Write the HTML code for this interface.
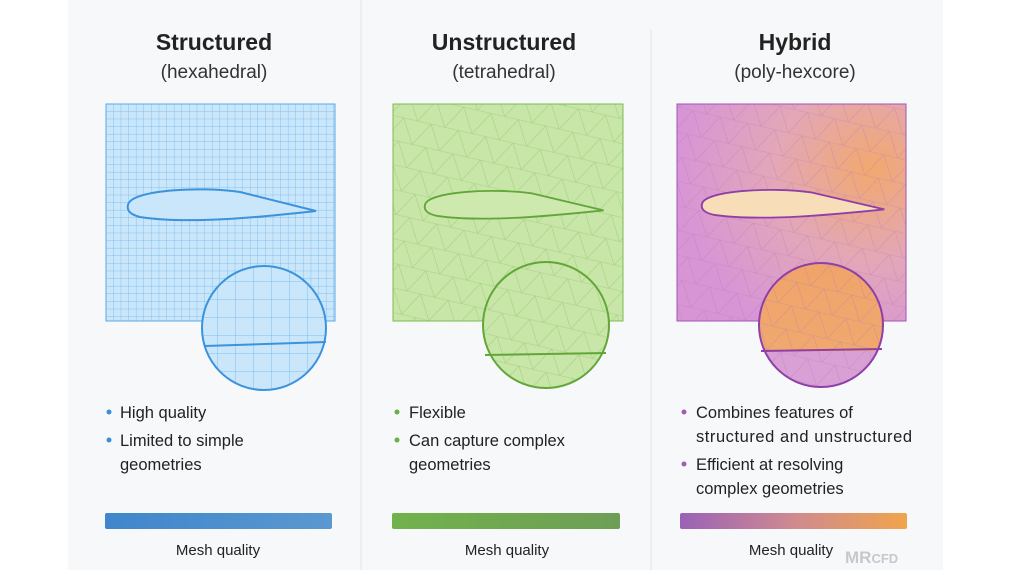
<!DOCTYPE html>
<html><head><meta charset="utf-8"><style>
body{margin:0;width:1012px;height:570px;background:#fff;overflow:hidden;font-family:"Liberation Sans",sans-serif}
</style></head><body>
<svg width="1012" height="570" viewBox="0 0 1012 570" xmlns="http://www.w3.org/2000/svg">
<defs>
<pattern id="grid" width="7.6" height="7.6" patternUnits="userSpaceOnUse" x="106" y="104"><path d="M7.6 0V7.6M0 7.6H7.6" stroke="#6db4ea" stroke-width="0.7" fill="none"/></pattern>
<pattern id="grid2" width="18" height="18" patternUnits="userSpaceOnUse" x="200" y="264"><path d="M18 0V18M0 18H18" stroke="#6db4ea" stroke-width="0.8" fill="none"/></pattern>
<pattern id="triG" width="28" height="24" patternUnits="userSpaceOnUse" patternTransform="rotate(13)"><path d="M0 0L14 24L28 0Z M0 24H28" stroke="#8cc267" stroke-opacity="0.6" stroke-width="0.6" fill="none"/></pattern>
<pattern id="triP" width="28" height="24" patternUnits="userSpaceOnUse" patternTransform="rotate(13)"><path d="M0 0L14 24L28 0Z M0 24H28" stroke="#b07ab0" stroke-opacity="0.45" stroke-width="0.6" fill="none"/></pattern>
<radialGradient id="pg" cx="0.85" cy="0.3" r="0.85"><stop offset="0" stop-color="#f2a86e"/><stop offset="0.5" stop-color="#e3a7b8"/><stop offset="1" stop-color="#d795d6"/></radialGradient>
<linearGradient id="pc" x1="0" y1="0" x2="0" y2="1"><stop offset="0" stop-color="#f0a46a"/><stop offset="0.7" stop-color="#f0a86e"/><stop offset="0.72" stop-color="#d9a0d6"/></linearGradient>
<linearGradient id="bb" x1="0" x2="1"><stop offset="0" stop-color="#3f86cc"/><stop offset="1" stop-color="#5b98d0"/></linearGradient>
<linearGradient id="gb" x1="0" x2="1"><stop offset="0" stop-color="#72b24c"/><stop offset="1" stop-color="#6e9e56"/></linearGradient>
<linearGradient id="hb" x1="0" x2="1"><stop offset="0" stop-color="#9a62b6"/><stop offset="0.5" stop-color="#cf8a90"/><stop offset="1" stop-color="#f0a44c"/></linearGradient>
<clipPath id="c1"><circle cx="264" cy="328" r="62"/></clipPath>
<clipPath id="c2"><circle cx="546" cy="325" r="63"/></clipPath>
<clipPath id="c3"><circle cx="821" cy="325" r="62"/></clipPath>
<path id="af" d="M0,0 C2,-15 72,-19 112,-13 L188,6 C142,11 62,20 12,12 C0,9 -1,4 0,0Z"/>
</defs>
<rect x="68" y="0" width="875" height="570" fill="#f7f8fa"/>
<line x1="361" y1="0" x2="361" y2="570" stroke="#e2e3e6"/>
<line x1="651" y1="30" x2="651" y2="570" stroke="#e2e3e6"/>
<g font-family="Liberation Sans,sans-serif" text-anchor="middle" fill="#222">
<text x="214" y="50" font-size="23" font-weight="bold">Structured</text>
<text x="214" y="78" font-size="19" fill="#333">(hexahedral)</text>
<text x="504" y="50" font-size="23" font-weight="bold">Unstructured</text>
<text x="504" y="78" font-size="19" fill="#333">(tetrahedral)</text>
<text x="795" y="50" font-size="23" font-weight="bold">Hybrid</text>
<text x="795" y="78" font-size="19" fill="#333">(poly-hexcore)</text>
</g>
<!-- blue -->
<rect x="106" y="104" width="229" height="217" fill="#c9e6fb"/>
<rect x="106" y="104" width="229" height="217" fill="url(#grid)" stroke="#5aa8e6"/>
<use href="#af" transform="translate(128,205)" fill="#c9e6fb" stroke="#3b93dc" stroke-width="2"/>
<circle cx="264" cy="328" r="62" fill="#c9e6fb"/>
<rect x="200" y="264" width="130" height="130" fill="url(#grid2)" clip-path="url(#c1)"/>
<circle cx="264" cy="328" r="62" fill="none" stroke="#3b93dc" stroke-width="2"/>
<line x1="205" y1="346" x2="326" y2="342" stroke="#3b93dc" stroke-width="2"/>
<!-- green -->
<rect x="393" y="104" width="230" height="217" fill="#c8e6a8"/>
<rect x="393" y="104" width="230" height="217" fill="url(#triG)" stroke="#7dba52"/>
<use href="#af" transform="translate(425,205) scale(0.95,0.9)" fill="#cde9ae" stroke="#62a63a" stroke-width="2"/>
<circle cx="546" cy="325" r="63" fill="#c8e6a8"/>
<rect x="480" y="260" width="132" height="132" fill="url(#triG)" clip-path="url(#c2)"/>
<circle cx="546" cy="325" r="63" fill="none" stroke="#62a63a" stroke-width="2"/>
<line x1="485" y1="355" x2="606" y2="353" stroke="#62a63a" stroke-width="2"/>
<!-- purple -->
<rect x="677" y="104" width="229" height="217" fill="url(#pg)"/>
<rect x="677" y="104" width="229" height="217" fill="url(#triP)" stroke="#a255b8"/>
<use href="#af" transform="translate(702,204) scale(0.97,0.9)" fill="#f7ddb8" stroke="#8f3fa8" stroke-width="2"/>
<circle cx="821" cy="325" r="62" fill="url(#pc)"/>
<rect x="757" y="261" width="130" height="130" fill="url(#triP)" clip-path="url(#c3)"/>
<circle cx="821" cy="325" r="62" fill="none" stroke="#8f3fa8" stroke-width="2"/>
<line x1="761" y1="351" x2="882" y2="349" stroke="#8f3fa8" stroke-width="2"/>
<!-- bullets -->
<g font-size="16.5" fill="#222" font-family="Liberation Sans,sans-serif">
<circle cx="109" cy="412" r="2.5" fill="#3b8fd8"/><text x="120" y="418">High quality</text>
<circle cx="109" cy="440" r="2.5" fill="#3b8fd8"/><text x="120" y="446">Limited to simple</text><text x="120" y="470">geometries</text>
<circle cx="397" cy="412" r="2.5" fill="#6aae46"/><text x="409" y="418">Flexible</text>
<circle cx="397" cy="440" r="2.5" fill="#6aae46"/><text x="409" y="446">Can capture complex</text><text x="409" y="470">geometries</text>
<circle cx="684" cy="412" r="2.5" fill="#a05cb8"/><text x="696" y="418">Combines features of</text><text x="696" y="442" textLength="216">structured and unstructured</text>
<circle cx="684" cy="464" r="2.5" fill="#a05cb8"/><text x="696" y="470">Efficient at resolving</text><text x="696" y="494">complex geometries</text>
</g>
<rect x="105" y="513" width="227" height="16" rx="2" fill="url(#bb)"/>
<rect x="392" y="513" width="228" height="16" rx="2" fill="url(#gb)"/>
<rect x="680" y="513" width="227" height="16" rx="2" fill="url(#hb)"/>
<g font-size="15" fill="#222" text-anchor="middle" font-family="Liberation Sans,sans-serif">
<text x="218" y="555">Mesh quality</text><text x="507" y="555">Mesh quality</text><text x="791" y="555">Mesh quality</text>
</g>
<text x="845" y="563" font-size="17" font-weight="bold" fill="#c8c8cc" font-family="Liberation Sans,sans-serif">MR<tspan font-size="13">CFD</tspan></text>
</svg>
</body></html>
